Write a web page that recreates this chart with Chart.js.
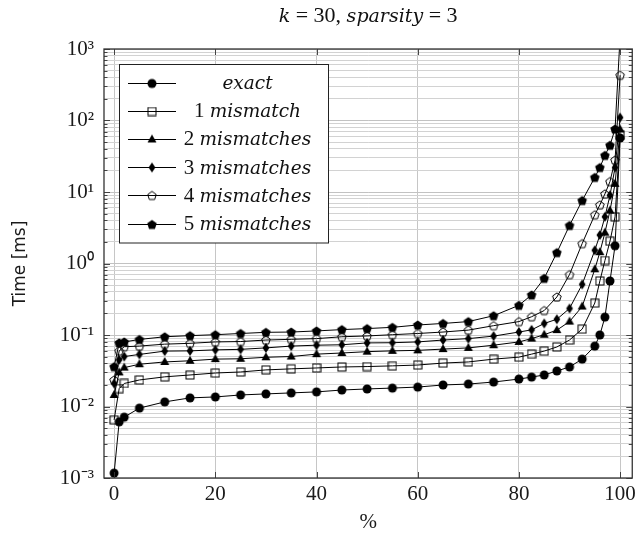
<!DOCTYPE html>
<html>
<head>
<meta charset="utf-8">
<script src="https://cdn.jsdelivr.net/npm/chart.js@4.4.1/dist/chart.umd.min.js"></script>
<style>
html,body{margin:0;padding:0;background:#fff;}
#wrap{width:640px;height:537px;}
</style>
</head>
<body>
<div id="wrap"><canvas id="c" width="640" height="537"></canvas></div>
<script>
// ---------------- data ----------------
const percent = [0,1,2,5,10,15,20,25,30,35,40,45,50,55,60,65,70,75,80,82.5,85,87.5,90,92.5,95,96,97,98,99,100];
const exact = [0.00117,0.0061,0.0071,0.0095,0.0116,0.0132,0.0136,0.0145,0.015,0.0155,0.016,0.017,0.0176,0.0181,0.0187,0.020,0.0206,0.022,0.0242,0.0258,0.0276,0.0314,0.0357,0.046,0.070,0.10,0.178,0.57,1.77,57];
const mismatch1 = [0.0065,0.0178,0.021,0.0235,0.026,0.0276,0.0294,0.0304,0.0325,0.0336,0.0346,0.0357,0.0362,0.037,0.038,0.0405,0.042,0.046,0.049,0.054,0.0596,0.068,0.085,0.121,0.28,0.57,1.1,2.05,4.5,62];
const mismatch2 = [0.0145,0.030,0.035,0.039,0.042,0.0436,0.046,0.0465,0.0488,0.050,0.054,0.056,0.0585,0.060,0.061,0.0635,0.066,0.072,0.080,0.089,0.101,0.117,0.154,0.25,0.83,1.44,2.7,5.5,13,75];
const mismatch3 = [0.021,0.045,0.050,0.0535,0.0595,0.060,0.062,0.063,0.066,0.070,0.072,0.073,0.0775,0.078,0.080,0.085,0.089,0.0965,0.110,0.118,0.145,0.166,0.235,0.51,1.53,2.5,4.5,9,22,110];
const mismatch4 = [0.0235,0.060,0.0685,0.070,0.0745,0.0765,0.080,0.081,0.085,0.087,0.089,0.0945,0.097,0.101,0.105,0.110,0.117,0.135,0.154,0.18,0.22,0.34,0.70,1.9,4.8,6.6,9.4,14,28,430];
const mismatch5 = [0.036,0.0775,0.080,0.0866,0.0945,0.098,0.101,0.105,0.109,0.110,0.114,0.119,0.123,0.128,0.138,0.145,0.154,0.186,0.26,0.364,0.62,1.42,3.4,7.6,16,22,32.5,45,76,1500];

const seriesNumber = ['', '1', '2', '3', '4', '5'];
const seriesWord = ['exact', 'mismatch', 'mismatches', 'mismatches', 'mismatches', 'mismatches'];
const yMajorValues = [0.001, 0.01, 0.1, 1, 10, 100, 1000];
const yMajorLabels = ['10\u207B\u00B3', '10\u207B\u00B2', '10\u207B\u00B9', '10\u2070', '10\u00B9', '10\u00B2', '10\u00B3'];
const xTickValues = [0, 20, 40, 60, 80, 100];
const titleParts = [['k', true], [' = 30, ', false], ['sparsity', true], [' = 3', false]];
const yAxisTitle = 'Time [ms]';
const xAxisTitle = '%';

// ---------------- markers ----------------
function mk(w, h, draw) {
  const c = document.createElement('canvas');
  c.width = w; c.height = h;
  const g = c.getContext('2d');
  g.fillStyle = '#000'; g.strokeStyle = '#000'; g.lineWidth = 1;
  draw(g, w / 2, h / 2);
  return c;
}
function pentPath(g, cx, cy, r) {
  g.beginPath();
  for (let k = 0; k < 5; k++) {
    const a = -Math.PI / 2 + k * 2 * Math.PI / 5;
    const px = cx + r * Math.cos(a), py = cy + r * Math.sin(a);
    if (k === 0) g.moveTo(px, py); else g.lineTo(px, py);
  }
  g.closePath();
}
const mCircle = mk(12, 12, (g, cx, cy) => { g.beginPath(); g.arc(cx, cy, 4.5, 0, Math.PI * 2); g.fill(); });
const mSquare = mk(10, 10, g => { g.strokeRect(1, 1, 8, 8); });
const mTriangle = mk(12, 12, (g, cx, cy) => {
  g.beginPath();
  g.moveTo(cx, cy - 5); g.lineTo(cx + 4.5, cy + 2.9); g.lineTo(cx - 4.5, cy + 2.9); g.closePath(); g.fill();
});
const mDiamond = mk(10, 12, (g, cx, cy) => {
  g.beginPath();
  g.moveTo(cx, cy - 5); g.lineTo(cx + 3.4, cy); g.lineTo(cx, cy + 5); g.lineTo(cx - 3.4, cy); g.closePath(); g.fill();
});
const mPentOpen = mk(12, 12, (g, cx, cy) => { pentPath(g, cx, cy + 0.4, 4.5); g.stroke(); });
const mPentFill = mk(12, 12, (g, cx, cy) => { pentPath(g, cx, cy + 0.4, 5); g.fill(); });
const markers = [mCircle, mSquare, mTriangle, mDiamond, mPentOpen, mPentFill];

const seriesValues = [exact, mismatch1, mismatch2, mismatch3, mismatch4, mismatch5];

const datasets = seriesValues.map((vals, i) => ({
  label: (seriesNumber[i] ? seriesNumber[i] + ' ' : '') + seriesWord[i],
  data: percent.map((p, j) => ({ x: p, y: vals[j] })),
  borderColor: '#000',
  backgroundColor: '#000',
  borderWidth: 1,
  tension: 0,
  pointStyle: markers[i],
  pointRadius: 4,
  order: 5 - i
}));

function isPow10(v) {
  const l = Math.log10(v);
  return Math.abs(l - Math.round(l)) < 1e-9;
}

// ---------------- plugins ----------------
const framePlugin = {
  id: 'frame',
  afterDatasetsDraw(chart) {
    const { ctx, chartArea: a, scales: { x, y } } = chart;
    ctx.save();
    ctx.strokeStyle = '#333';
    ctx.lineWidth = 0.9;
    ctx.beginPath();
    y.ticks.forEach(t => {
      const py = Math.round(y.getPixelForValue(t.value)) + 0.5;
      const L = isPow10(t.value) ? 6 : 3.5;
      ctx.moveTo(a.left, py); ctx.lineTo(a.left + L, py);
      ctx.moveTo(a.right, py); ctx.lineTo(a.right - L, py);
    });
    x.ticks.forEach(t => {
      const px = Math.round(x.getPixelForValue(t.value)) + 0.5;
      ctx.moveTo(px, a.bottom); ctx.lineTo(px, a.bottom - 6);
      ctx.moveTo(px, a.top); ctx.lineTo(px, a.top + 6);
    });
    ctx.stroke();
    ctx.lineWidth = 1.3;
    ctx.strokeRect(a.left, a.top, a.right - a.left, a.bottom - a.top);
    ctx.restore();
  }
};

function drawRich(ctx, parts, cx, cy, upFont, itFont) {
  ctx.textBaseline = 'alphabetic';
  let w = 0;
  parts.forEach(([t, it]) => { ctx.font = it ? itFont : upFont; w += ctx.measureText(t).width; });
  let x = cx - w / 2;
  parts.forEach(([t, it]) => {
    ctx.font = it ? itFont : upFont;
    ctx.fillText(t, x, cy);
    x += ctx.measureText(t).width;
  });
}

const titlePlugin = {
  id: 'richTitle',
  afterDraw(chart) {
    const { ctx, chartArea: a } = chart;
    ctx.save();
    ctx.fillStyle = '#111';
    drawRich(ctx, titleParts, (a.left + a.right) / 2, 22, '22px "Liberation Serif"', 'italic 19px "DejaVu Serif"');
    ctx.restore();
  }
};

const legendPlugin = {
  id: 'boxLegend',
  afterDraw(chart) {
    const { ctx } = chart;
    const bx = 119.5, by = 64.5, bw = 209, bh = 178.5;
    ctx.save();
    ctx.fillStyle = '#fff';
    ctx.fillRect(bx, by, bw, bh);
    ctx.strokeStyle = '#222';
    ctx.lineWidth = 1;
    ctx.strokeRect(bx, by, bw, bh);
    chart.data.datasets.forEach((ds, i) => {
      const ry = 82.5 + i * 28.2;
      ctx.strokeStyle = '#000';
      ctx.lineWidth = 1;
      ctx.beginPath();
      ctx.moveTo(128, Math.round(ry) + 0.5);
      ctx.lineTo(176, Math.round(ry) + 0.5);
      ctx.stroke();
      const m = ds.pointStyle;
      ctx.drawImage(m, 152 - m.width / 2, Math.round(ry) + 0.5 - m.height / 2);
      ctx.fillStyle = '#111';
      const parts = seriesNumber[i] ? [[seriesNumber[i] + ' ', false], [seriesWord[i], true]] : [[seriesWord[i], true]];
      drawRich(ctx, parts, 247.5, ry + 6.5, '21px "Liberation Serif"', 'italic 18.5px "DejaVu Serif"');
    });
    ctx.restore();
  }
};

// ---------------- chart ----------------
new Chart(document.getElementById('c'), {
  type: 'line',
  data: { datasets },
  options: {
    responsive: false,
    animation: false,
    devicePixelRatio: 1,
    events: [],
    layout: { padding: { left: 6, right: 6, top: 49, bottom: 0 } },
    plugins: { legend: { display: false }, tooltip: { enabled: false }, title: { display: false } },
    scales: {
      x: {
        type: 'linear',
        min: -2,
        max: 102.4,
        afterBuildTicks: s => { s.ticks = xTickValues.map(v => ({ value: v })); },
        afterFit: s => { s.height = 59; },
        grid: { color: '#c6c6c6', lineWidth: 1, drawTicks: false },
        border: { display: false },
        ticks: { font: { family: 'Liberation Serif', size: 21 }, color: '#1a1a1a', padding: 4, maxRotation: 0, autoSkip: false },
        title: { display: true, text: xAxisTitle, font: { family: 'Liberation Serif', size: 21 }, color: '#1a1a1a', padding: { top: 0, bottom: 2 } }
      },
      y: {
        type: 'logarithmic',
        min: 0.001,
        max: 1000,
        afterBuildTicks: s => {
          const t = [];
          for (let e = -3; e < 3; e++) {
            for (let k = 1; k < 10; k++) t.push({ value: parseFloat((k * Math.pow(10, e)).toPrecision(6)) });
          }
          t.push({ value: 1000 });
          s.ticks = t;
        },
        afterFit: s => { s.width = 98; },
        grid: {
          color: c => (c.tick && isPow10(c.tick.value)) ? '#c2c2c2' : '#d2d2d2',
          lineWidth: 1,
          drawTicks: false
        },
        border: { display: false },
        ticks: {
          autoSkip: false,
          padding: 10,
          font: { family: 'Liberation Serif', size: 21 },
          color: '#1a1a1a',
          callback: v => {
            const idx = yMajorValues.findIndex(m => Math.abs(Math.log10(m) - Math.log10(v)) < 1e-9);
            return idx >= 0 ? yMajorLabels[idx] : '';
          }
        },
        title: { display: true, text: yAxisTitle, font: { family: 'DejaVu Sans', size: 17 }, color: '#1a1a1a', padding: { top: 4, bottom: 0 } }
      }
    }
  },
  plugins: [framePlugin, legendPlugin, titlePlugin]
});
</script>
</body>
</html>
